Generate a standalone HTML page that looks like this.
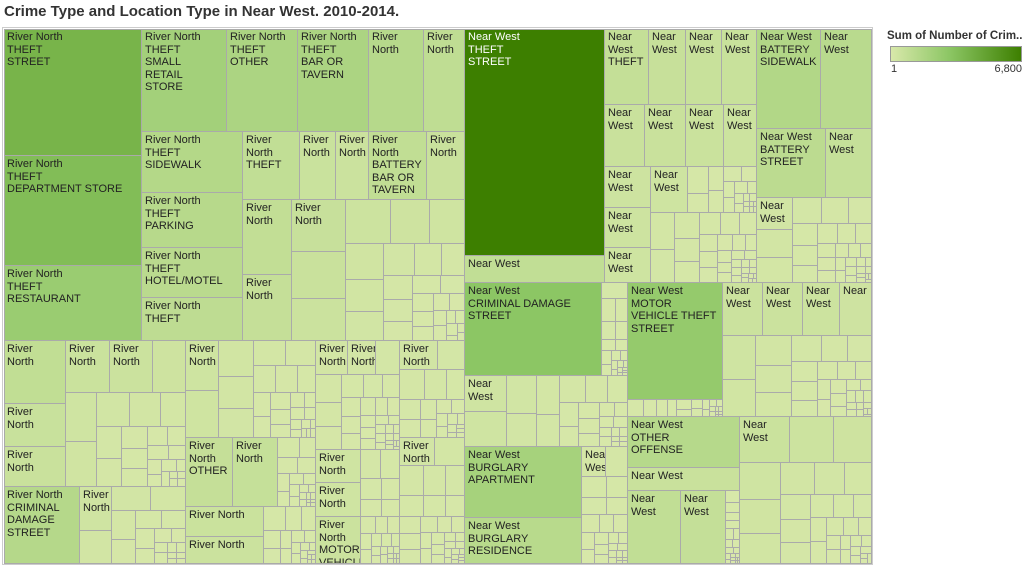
<!DOCTYPE html>
<html><head><meta charset="utf-8">
<style>
body{margin:0;width:1026px;height:567px;background:#fff;font-family:"Liberation Sans",Arial,sans-serif;overflow:hidden;position:relative}
#title{position:absolute;left:4px;top:3px;font-size:15px;font-weight:bold;color:#333;white-space:nowrap}
#frame{position:absolute;left:2px;top:27px;width:871px;height:538px;border:1px solid #ccc;box-sizing:border-box}
#tm{position:absolute;left:4px;top:29px;width:868px;height:535px;border-left:1px solid #aaa;border-top:1px solid #aaa;box-sizing:border-box;overflow:hidden}
.c{position:absolute;box-sizing:border-box;border-right:1px solid #aaa;border-bottom:1px solid #aaa;overflow:hidden;font-size:11px;line-height:12.6px;color:#222;padding:0;white-space:pre-line}
.c.lab{padding:2px 3px}
#lt{position:absolute;left:887px;top:30px;font-size:11.5px;font-weight:bold;color:#333;white-space:nowrap}
#lb{position:absolute;left:890px;top:46px;width:132px;height:16px;border:1px solid #999;box-sizing:border-box;background:linear-gradient(to right,#d8e8aa,#8cc664 45%,#3d7f00)}
.ll{position:absolute;top:63px;font-size:11px;color:#333}
</style></head><body>
<div id="title">Crime Type and Location Type in Near West. 2010-2014.</div>
<div id="frame"></div>
<div id="tm"></div>
<div id="lt">Sum of Number of Crim..</div>
<div id="lb"></div>
<div class="ll" style="left:891px">1</div>
<div class="ll" style="left:980px;width:42px;text-align:right">6,800</div>
<script>
// filler distributions (relative counts of small crime/location combinations)
const fillA=[60,52,45,40,36,32,28,25,22,20,18,16,14,12,11,10,9,8,7,6,5,5,4,4,3,3,2,2,2,1,1,1];
const fillB=[40,38,30,26,24,20,18,15,14,12,10,9,8,7,6,5,4,4,3,3,2,2,1,1,1,1];
const fillC=[30,22,20,18,15,12,10,9,8,6,5,4,3,3,2,2,1,1,1,1];
const colorStops=[[0,[216,232,170]],[0.4,[140,198,100]],[1,[61,127,0]]];
const maxValue=6800;

function L(v,l){return {v:v,l:l||''};}
function H(){return {d:'h',k:[...arguments]};}
function V(){return {d:'v',k:[...arguments]};}
function S(t,f,p,n){return {t:t,f:f,p:p,n:n};}
const RN='River North',NW='Near West';

const tree=H(
 V(
  H(
   V(L(3770,'River North\nTHEFT\nSTREET'),L(3235,'River North\nTHEFT\nDEPARTMENT STORE'),L(2226,'River North\nTHEFT\nRESTAURANT')),
   V(
    H(L(1883,'River North\nTHEFT\nSMALL\nRETAIL\nSTORE'),L(1573,'River North\nTHEFT\nOTHER'),L(1573,'River North\nTHEFT\nBAR OR\nTAVERN'),L(1218,'River\nNorth'),L(908,'River\nNorth')),
    H(
     V(L(1303,'River North\nTHEFT\nSIDEWALK'),L(1195,'River North\nTHEFT\nPARKING'),L(1086,'River North\nTHEFT\nHOTEL/MOTEL'),L(934,'River North\nTHEFT')),
     V(
      H(L(821,'River\nNorth\nTHEFT'),L(519,'River\nNorth'),L(475,'River\nNorth'),L(836,'River\nNorth\nBATTERY\nBAR OR\nTAVERN'),L(548,'River\nNorth')),
      S(6731,fillA,RN,3)
     )
    )
   )
  ),
  H(
   V(
    H(V(L(840,'River\nNorth'),L(560,'River\nNorth'),L(533,'River\nNorth')),S(3742,fillB,RN,2)),
    H(L(1258,'River North\nCRIMINAL\nDAMAGE\nSTREET'),S(1755,fillC,RN,1))
   ),
   V(
    S(2684,fillB,RN,1),
    H(L(697,'River\nNorth\nOTHER'),L(668,'River\nNorth'),S(564,fillC,RN,0)),
    H(V(L(503,'River North'),L(453,'River North')),S(637,fillC,RN,0))
   ),
   V(
    S(1951,fillA,RN,2),
    H(V(L(320,'River\nNorth'),L(329,'River\nNorth'),L(455,'River\nNorth\nMOTOR\nVEHICLE')),S(956,fillB,RN,0))
   ),
   V(S(1342,fillC,RN,1),S(1761,fillA,RN,1))
  )
 ),
 V(
  H(
   V(L(6800,'Near West\nTHEFT\nSTREET'),L(813,'Near West')),
   V(
    H(L(719,'Near\nWest\nTHEFT'),L(605,'Near\nWest'),L(588,'Near\nWest'),L(572,'Near\nWest')),
    H(L(533,'Near\nWest'),L(547,'Near\nWest'),L(507,'Near\nWest'),L(440,'Near\nWest')),
    H(
     V(L(396,'Near\nWest'),L(396,'Near\nWest'),L(346,'Near\nWest')),
     V(H(L(358,'Near\nWest'),S(668,fillC,NW,0)),S(1596,fillA,NW,0))
    )
   ),
   V(
    H(L(1376,'Near West\nBATTERY\nSIDEWALK'),L(1097,'Near\nWest')),
    H(L(1009,'Near West\nBATTERY\nSTREET'),L(673,'Near\nWest')),
    S(2102,fillA,NW,1)
   )
  ),
  H(
   V(
    H(L(2740,'Near West\nCRIMINAL DAMAGE\nSTREET'),S(520,fillC,NW,0)),
    S(2454,fillB,NW,1),
    H(V(L(1786,'Near West\nBURGLARY\nAPARTMENT'),L(1157,'Near West\nBURGLARY\nRESIDENCE')),S(1157,fillB,NW,1))
   ),
   V(
    H(
     V(L(2390,'Near West\nMOTOR\nVEHICLE THEFT\nSTREET'),S(347,fillC,NW,0)),
     V(H(L(456,'Near\nWest'),L(456,'Near\nWest'),L(422,'Near\nWest'),L(365,'Near')),S(2596,fillA,NW,0))
    ),
    H(
     V(L(1204,'Near West\nOTHER\nOFFENSE'),L(554,'Near West'),H(L(832,'Near\nWest'),L(707,'Near\nWest'),S(220,fillC,NW,0))),
     S(4144,fillA,NW,1)
    )
   )
  )
 )
);

function sumv(n){if(n.k)return n.k.reduce((a,c)=>a+sumv(c),0);if(n.t!==undefined)return n.t;return n.v;}
function color(v){
  let t=Math.min(1,Math.max(0,v/maxValue));
  for(let i=1;i<colorStops.length;i++){
    if(t<=colorStops[i][0]){const a=colorStops[i-1],b=colorStops[i];const u=(t-a[0])/(b[0]-a[0]);
      return 'rgb('+a[1].map((c,j)=>Math.round(c+(b[1][j]-c)*u)).join(',')+')';}
  }
  return 'rgb(61,127,0)';
}
const tm=document.getElementById('tm');
const OX=-1,OY=-1;
function draw(x,y,w,h,v,label){
  const d=document.createElement('div');
  d.className=label?'c lab':'c';
  
  
  const l=Math.round(x),t=Math.round(y);
  d.style.left=l+'px';d.style.top=t+'px';
  d.style.width=Math.max(1,Math.round(x+w)-l)+'px';d.style.height=Math.max(1,Math.round(y+h)-t)+'px';
  d.style.background=color(v);
  if(v>5000)d.style.color='#fff';
  if(label)d.textContent=label;
  tm.appendChild(d);
}
function worst(row,side){const s=row.reduce((a,b)=>a+b,0);const mx=Math.max(...row),mn=Math.min(...row);return Math.max(side*side*mx/(s*s),(s*s)/(side*side*mn));}
function squarify(vals,x,y,w,h,cb){
  const tot=vals.reduce((a,b)=>a+b,0);const areas=vals.map(v=>v*w*h/tot);
  let i=0;
  while(i<areas.length){
    const side=Math.min(w,h);let row=[areas[i]];let j=i+1;
    while(j<areas.length){const nr=row.concat([areas[j]]);if(worst(nr,side)<=worst(row,side)){row=nr;j++;}else break;}
    const s=row.reduce((a,b)=>a+b,0);
    if(w>=h){const cw=s/h;let cy=y;row.forEach((a,k)=>{const ch=a/cw;cb(i+k,x,cy,cw,ch);cy+=ch;});x+=cw;w-=cw;}
    else{const ch=s/w;let cx=x;row.forEach((a,k)=>{const cw=a/ch;cb(i+k,cx,y,cw,ch);cx+=cw;});y+=ch;h-=ch;}
    i=j;
  }
}
function layout(n,x,y,w,h){
  if(n.k){const tot=sumv(n);let off=0;
    n.k.forEach(c=>{const s=sumv(c)/tot;
      if(n.d==='h'){layout(c,x+off,y,w*s,h);off+=w*s;}else{layout(c,x,y+off,w,h*s);off+=h*s;}});
  }else if(n.t!==undefined){
    const ft=n.f.reduce((a,b)=>a+b,0);const vals=n.f.map(f=>f*n.t/ft);
    squarify(vals,x,y,w,h,(i,cx,cy,cw,ch)=>draw(cx,cy,cw,ch,vals[i],i<n.n?n.p:''));
  }else draw(x,y,w,h,n.v,n.l);
}
layout(tree,OX,OY,868,535);
</script>
</body></html>
